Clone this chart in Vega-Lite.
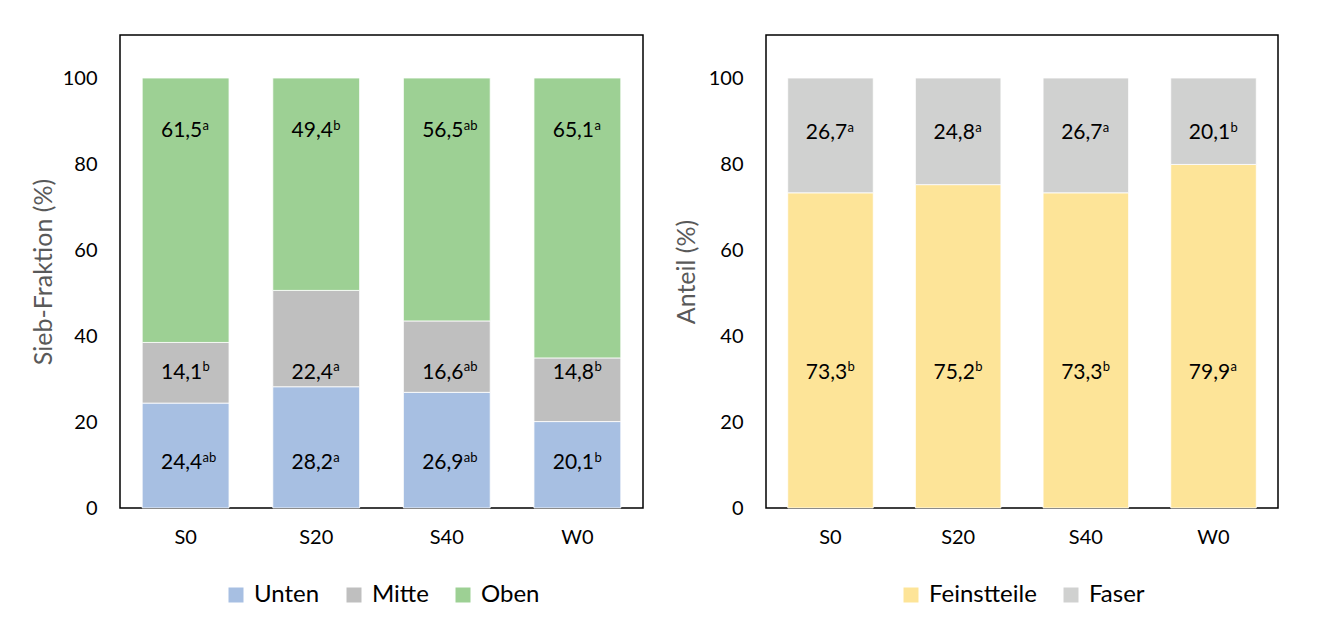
{
  "$schema": "https://vega.github.io/schema/vega-lite/v6.json",
  "background": "white",
  "padding": {"left": 30, "top": 34, "right": 5, "bottom": 5},
  "config": {
    "font": "Lato",
    "locale": {"number": {"decimal": ",", "thousands": ".", "grouping": [3], "currency": ["", " €"]}},
    "view": {"stroke": "black", "strokeWidth": 1.5},
    "axis": {"labelFont": "Lato", "labelFontSize": 20, "labelColor": "black", "titleFont": "Lato", "titleFontSize": 25, "titleColor": "#595959", "titleFontWeight": "normal", "ticks": false, "domain": false, "grid": false},
    "legend": {"labelFont": "Lato", "labelFontSize": 24, "labelColor": "black", "symbolType": "square", "symbolSize": 225, "symbolStrokeWidth": 0, "columnPadding": 22, "labelOffset": 6, "orient": "bottom", "direction": "horizontal", "offset": 36, "layout": {"bottom": {"anchor": "middle"}}}
  },
  "datasets": {
    "sieb": [
      {"cat": "S0", "series": "Unten", "value": 24.4, "sig": "ab"},
      {"cat": "S20", "series": "Unten", "value": 28.2, "sig": "a"},
      {"cat": "S40", "series": "Unten", "value": 26.9, "sig": "ab"},
      {"cat": "W0", "series": "Unten", "value": 20.1, "sig": "b"},
      {"cat": "S0", "series": "Mitte", "value": 14.1, "sig": "b"},
      {"cat": "S20", "series": "Mitte", "value": 22.4, "sig": "a"},
      {"cat": "S40", "series": "Mitte", "value": 16.6, "sig": "ab"},
      {"cat": "W0", "series": "Mitte", "value": 14.8, "sig": "b"},
      {"cat": "S0", "series": "Oben", "value": 61.5, "sig": "a"},
      {"cat": "S20", "series": "Oben", "value": 49.4, "sig": "b"},
      {"cat": "S40", "series": "Oben", "value": 56.5, "sig": "ab"},
      {"cat": "W0", "series": "Oben", "value": 65.1, "sig": "a"}
    ],
    "anteil": [
      {"cat": "S0", "series": "Feinstteile", "value": 73.3, "sig": "b"},
      {"cat": "S20", "series": "Feinstteile", "value": 75.2, "sig": "b"},
      {"cat": "S40", "series": "Feinstteile", "value": 73.3, "sig": "b"},
      {"cat": "W0", "series": "Feinstteile", "value": 79.9, "sig": "a"},
      {"cat": "S0", "series": "Faser", "value": 26.7, "sig": "a"},
      {"cat": "S20", "series": "Faser", "value": 24.8, "sig": "a"},
      {"cat": "S40", "series": "Faser", "value": 26.7, "sig": "a"},
      {"cat": "W0", "series": "Faser", "value": 20.1, "sig": "b"}
    ]
  },
  "spacing": 29,
  "resolve": {"scale": {"color": "independent", "x": "independent", "y": "independent"}, "legend": {"color": "independent"}},
  "hconcat": [
    {
      "width": 523,
      "height": 473,
      "data": {"name": "sieb"},
      "transform": [{"calculate": "indexof(['Unten','Mitte','Oben'], datum.series)", "as": "stackOrder"}],
      "encoding": {
        "x": {"field": "cat", "type": "nominal", "sort": ["S0", "S20", "S40", "W0"], "scale": {"paddingInner": 0.335, "paddingOuter": 0.17}, "axis": {"title": null, "labelAngle": 0, "labelPadding": 19}}
      },
      "layer": [
        {
          "mark": {"type": "bar", "stroke": "white", "strokeWidth": 0.8},
          "encoding": {
            "y": {"field": "value", "type": "quantitative", "stack": "zero", "scale": {"domain": [0, 110], "nice": false}, "axis": {"title": "Sieb-Fraktion (%)", "values": [0, 20, 40, 60, 80, 100], "labelPadding": 23, "titlePadding": 6}},
            "order": {"field": "stackOrder", "type": "quantitative", "sort": "ascending"},
            "color": {"field": "series", "type": "nominal", "sort": ["Unten", "Mitte", "Oben"], "scale": {"domain": ["Unten", "Mitte", "Oben"], "range": ["#A7BFE2", "#BFBFBF", "#9DD094"]}, "legend": {"title": null}}
          }
        },
        {
          "transform": [{"filter": "datum.series === 'Unten'"}],
          "encoding": {"y": {"datum": 10.4}},
          "layer": [
            {"mark": {"type": "text", "fontSize": 21, "color": "black", "baseline": "middle", "align": "center", "dx": -4}, "encoding": {"text": {"field": "value", "format": ".1f"}}},
            {"mark": {"type": "text", "fontSize": 13, "color": "black", "baseline": "alphabetic", "align": "left", "dx": 17, "dy": -1.5}, "encoding": {"text": {"field": "sig"}}}
          ]
        },
        {
          "transform": [{"filter": "datum.series === 'Mitte'"}],
          "encoding": {"y": {"datum": 31.5}},
          "layer": [
            {"mark": {"type": "text", "fontSize": 21, "color": "black", "baseline": "middle", "align": "center", "dx": -4}, "encoding": {"text": {"field": "value", "format": ".1f"}}},
            {"mark": {"type": "text", "fontSize": 13, "color": "black", "baseline": "alphabetic", "align": "left", "dx": 17, "dy": -1.5}, "encoding": {"text": {"field": "sig"}}}
          ]
        },
        {
          "transform": [{"filter": "datum.series === 'Oben'"}],
          "encoding": {"y": {"datum": 87.6}},
          "layer": [
            {"mark": {"type": "text", "fontSize": 21, "color": "black", "baseline": "middle", "align": "center", "dx": -4}, "encoding": {"text": {"field": "value", "format": ".1f"}}},
            {"mark": {"type": "text", "fontSize": 13, "color": "black", "baseline": "alphabetic", "align": "left", "dx": 17, "dy": -1.5}, "encoding": {"text": {"field": "sig"}}}
          ]
        }
      ]
    },
    {
      "width": 512,
      "height": 473,
      "data": {"name": "anteil"},
      "transform": [{"calculate": "indexof(['Feinstteile','Faser'], datum.series)", "as": "stackOrder"}],
      "encoding": {
        "x": {"field": "cat", "type": "nominal", "sort": ["S0", "S20", "S40", "W0"], "scale": {"paddingInner": 0.33, "paddingOuter": 0.17}, "axis": {"title": null, "labelAngle": 0, "labelPadding": 19}}
      },
      "layer": [
        {
          "mark": {"type": "bar", "stroke": "white", "strokeWidth": 0.8},
          "encoding": {
            "y": {"field": "value", "type": "quantitative", "stack": "zero", "scale": {"domain": [0, 110], "nice": false}, "axis": {"title": "Anteil (%)", "values": [0, 20, 40, 60, 80, 100], "labelPadding": 23, "titlePadding": 9}},
            "order": {"field": "stackOrder", "type": "quantitative", "sort": "ascending"},
            "color": {"field": "series", "type": "nominal", "sort": ["Feinstteile", "Faser"], "scale": {"domain": ["Feinstteile", "Faser"], "range": ["#FDE498", "#D0D1D0"]}, "legend": {"title": null}}
          }
        },
        {
          "transform": [{"filter": "datum.series === 'Feinstteile'"}],
          "encoding": {"y": {"datum": 31.5}},
          "layer": [
            {"mark": {"type": "text", "fontSize": 21, "color": "black", "baseline": "middle", "align": "center", "dx": -4}, "encoding": {"text": {"field": "value", "format": ".1f"}}},
            {"mark": {"type": "text", "fontSize": 13, "color": "black", "baseline": "alphabetic", "align": "left", "dx": 17, "dy": -1.5}, "encoding": {"text": {"field": "sig"}}}
          ]
        },
        {
          "transform": [{"filter": "datum.series === 'Faser'"}],
          "encoding": {"y": {"datum": 87.2}},
          "layer": [
            {"mark": {"type": "text", "fontSize": 21, "color": "black", "baseline": "middle", "align": "center", "dx": -4}, "encoding": {"text": {"field": "value", "format": ".1f"}}},
            {"mark": {"type": "text", "fontSize": 13, "color": "black", "baseline": "alphabetic", "align": "left", "dx": 17, "dy": -1.5}, "encoding": {"text": {"field": "sig"}}}
          ]
        }
      ]
    }
  ]
}
